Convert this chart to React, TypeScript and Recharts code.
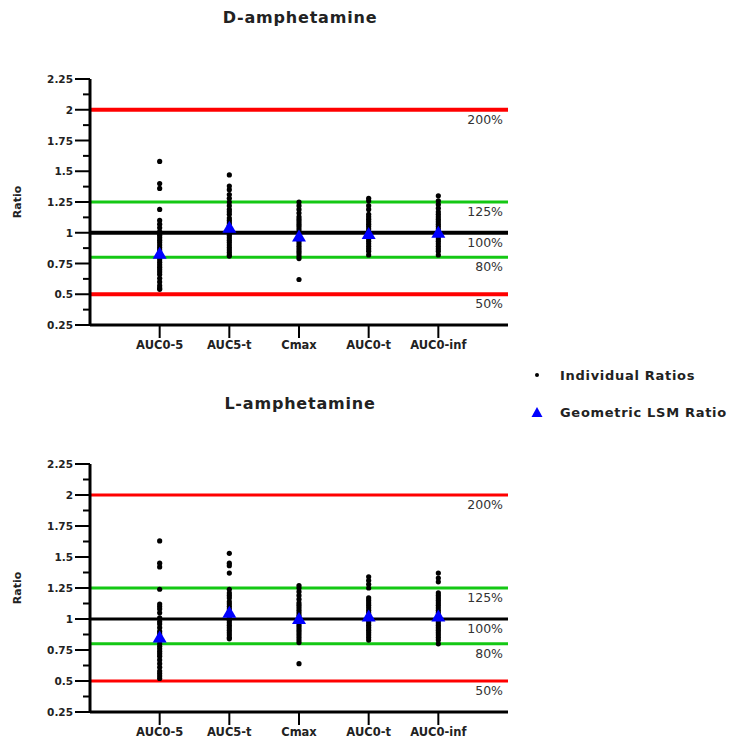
import React from 'react';
import { ScatterChart, Scatter, XAxis, YAxis, ReferenceLine } from 'recharts';

const categories = ['AUC0-5', 'AUC5-t', 'Cmax', 'AUC0-t', 'AUC0-inf'];
const xTicks = [1, 2, 3, 4, 5];

const yTicks = [0.25, 0.375, 0.5, 0.625, 0.75, 0.875, 1, 1.125, 1.25, 1.375, 1.5, 1.625, 1.75, 1.875, 2, 2.125, 2.25];
const yMajorTicks = [0.25, 0.5, 0.75, 1, 1.25, 1.5, 1.75, 2, 2.25];
const yMajorLabels = ['0.25', '0.5', '0.75', '1', '1.25', '1.5', '1.75', '2', '2.25'];

const refValues = [2, 1.25, 1, 0.8, 0.5];
const refLabels = ['200%', '125%', '100%', '80%', '50%'];

// D-amphetamine individual ratios
const dAuc05 = [1.58, 1.4, 1.36, 1.19, 1.1, 1.07, 1.04, 1.01, 1.0, 0.98, 0.96, 0.94, 0.92, 0.9, 0.88, 0.86, 0.84, 0.82, 0.8, 0.78, 0.76, 0.74, 0.72, 0.7, 0.68, 0.66, 0.63, 0.6, 0.57, 0.55, 0.54];
const dAuc5t = [1.47, 1.38, 1.35, 1.31, 1.28, 1.25, 1.22, 1.19, 1.17, 1.15, 1.12, 1.1, 1.08, 1.06, 1.04, 1.02, 1.0, 0.98, 0.96, 0.94, 0.92, 0.9, 0.88, 0.86, 0.84, 0.82, 0.81];
const dCmax = [1.25, 1.22, 1.19, 1.16, 1.13, 1.11, 1.09, 1.07, 1.05, 1.03, 1.01, 0.99, 0.97, 0.95, 0.93, 0.91, 0.89, 0.87, 0.85, 0.83, 0.81, 0.79, 0.62];
const dAuc0t = [1.28, 1.26, 1.22, 1.19, 1.15, 1.13, 1.11, 1.09, 1.07, 1.05, 1.03, 1.01, 0.99, 0.97, 0.95, 0.93, 0.91, 0.89, 0.87, 0.85, 0.82];
const dAuc0inf = [1.3, 1.26, 1.23, 1.2, 1.17, 1.15, 1.13, 1.11, 1.09, 1.07, 1.05, 1.03, 1.01, 0.99, 0.97, 0.95, 0.93, 0.91, 0.89, 0.87, 0.85, 0.82];
const dLsm = [0.83, 1.04, 0.97, 0.99, 1.0];

// L-amphetamine individual ratios
const lAuc05 = [1.63, 1.45, 1.42, 1.24, 1.12, 1.1, 1.08, 1.05, 1.01, 0.98, 0.96, 0.93, 0.9, 0.88, 0.86, 0.83, 0.8, 0.78, 0.76, 0.74, 0.72, 0.7, 0.67, 0.64, 0.61, 0.58, 0.56, 0.54, 0.52];
const lAuc5t = [1.53, 1.45, 1.43, 1.37, 1.24, 1.21, 1.19, 1.17, 1.14, 1.12, 1.1, 1.08, 1.06, 1.03, 1.01, 0.99, 0.97, 0.95, 0.93, 0.91, 0.89, 0.87, 0.85, 0.84];
const lCmax = [1.27, 1.25, 1.22, 1.19, 1.16, 1.13, 1.11, 1.09, 1.07, 1.05, 1.03, 1.01, 0.99, 0.97, 0.95, 0.93, 0.91, 0.89, 0.87, 0.85, 0.83, 0.81, 0.64];
const lAuc0t = [1.34, 1.31, 1.28, 1.25, 1.17, 1.15, 1.13, 1.11, 1.09, 1.07, 1.05, 1.03, 1.01, 0.99, 0.97, 0.95, 0.93, 0.91, 0.89, 0.87, 0.85, 0.83];
const lAuc0inf = [1.37, 1.33, 1.3, 1.21, 1.19, 1.17, 1.15, 1.13, 1.11, 1.09, 1.07, 1.05, 1.03, 1.01, 0.99, 0.97, 0.95, 0.93, 0.91, 0.89, 0.87, 0.85, 0.83, 0.8];
const lLsm = [0.85, 1.05, 1.0, 1.02, 1.02];

const FONT = '"DejaVu Sans", Verdana, sans-serif';
const TICK_SIZE = 15;
const TICK_MARGIN = 2;

const toPoints = (groups: number[][]) =>
  groups.flatMap((vals, i) => vals.map((v) => ({ x: xTicks[i], y: v })));
const toLsm = (vals: number[]) => vals.map((v, i) => ({ x: xTicks[i], y: v }));

const YTick = (props: any) => {
  const { x, y, payload } = props;
  const axisX = x + TICK_SIZE + TICK_MARGIN;
  const idx = yMajorTicks.indexOf(payload.value);
  const major = idx >= 0;
  return (
    <g>
      <line x1={axisX - (major ? TICK_SIZE : 7)} x2={axisX} y1={y} y2={y} stroke="#000" strokeWidth={2} />
      {major && (
        <text x={x} y={y} dy={4} textAnchor="end" fontFamily={FONT} fontSize={10.5} fontWeight="bold" fill="#222">
          {yMajorLabels[idx]}
        </text>
      )}
    </g>
  );
};

const Dot = (props: any) => <circle cx={props.cx} cy={props.cy} r={2.6} fill="#000" />;
const Tri = (props: any) => {
  const { cx, cy } = props;
  return <polygon points={`${cx - 7},${cy + 5} ${cx + 7},${cy + 5} ${cx},${cy - 7}`} fill="#0000ff" />;
};

const refColors = ['#ff0000', '#14c814', '#000000', '#14c814', '#ff0000'];

const Panel = ({ individual, lsm, height, thick }: { individual: number[][]; lsm: number[]; height: number; thick: boolean }) => {
  const widths = thick ? [4, 3, 4, 3, 4] : [3, 3, 3, 3, 3];
  return (
    <ScatterChart width={520} height={height} margin={{ top: 79, right: 12, bottom: 5, left: 10 }}>
      <XAxis
        dataKey="x"
        type="number"
        domain={[0, 6]}
        ticks={xTicks}
        interval={0}
        tickFormatter={(v: number) => categories[v - 1]}
        axisLine={{ stroke: '#000', strokeWidth: 3 }}
        tickLine={{ stroke: '#000', strokeWidth: 2 }}
        tickSize={13}
        tickMargin={3}
        tick={{ fill: '#222', fontSize: 11.5, fontWeight: 'bold', fontFamily: FONT }}
        height={30}
      />
      <YAxis
        dataKey="y"
        type="number"
        domain={[0.25, 2.25]}
        ticks={yTicks}
        interval={0}
        width={80}
        axisLine={{ stroke: '#000', strokeWidth: 3 }}
        tickLine={false}
        tickSize={TICK_SIZE}
        tickMargin={TICK_MARGIN}
        tick={<YTick />}
      />
      {refValues.map((v, i) => (
        <ReferenceLine
          key={v}
          y={v}
          stroke={refColors[i]}
          strokeWidth={widths[i]}
          label={{ value: refLabels[i], position: 'insideTopRight', offset: 5, fill: '#333', fontSize: 12.5, fontFamily: FONT }}
        />
      ))}
      <Scatter data={toPoints(individual)} shape={<Dot />} isAnimationActive={false} />
      <Scatter data={toLsm(lsm)} shape={<Tri />} isAnimationActive={false} />
    </ScatterChart>
  );
};

const Centered = ({ x, y, children, style }: any) => (
  <div style={{ position: 'absolute', left: x, top: y, transform: 'translate(-50%, -50%)', whiteSpace: 'nowrap', ...style }}>
    {children}
  </div>
);

export default function App() {
  return (
    <div style={{ position: 'absolute', left: 0, top: 0, width: 730, height: 742, background: '#fff', fontFamily: FONT, overflow: 'hidden' }}>
      <Centered x={300} y={17} style={{ fontSize: 16, fontWeight: 'bold', letterSpacing: 0.8, color: '#222' }}>D-amphetamine</Centered>
      <Centered x={300} y={403} style={{ fontSize: 16, fontWeight: 'bold', letterSpacing: 0.8, color: '#222' }}>L-amphetamine</Centered>
      <Centered x={17} y={202} style={{ fontSize: 11, fontWeight: 'bold', color: '#222', transform: 'translate(-50%, -50%) rotate(-90deg)' }}>Ratio</Centered>
      <Centered x={17} y={588} style={{ fontSize: 11, fontWeight: 'bold', color: '#222', transform: 'translate(-50%, -50%) rotate(-90deg)' }}>Ratio</Centered>

      <div style={{ position: 'absolute', left: 0, top: 0 }}>
        <Panel individual={[dAuc05, dAuc5t, dCmax, dAuc0t, dAuc0inf]} lsm={dLsm} height={360} thick={true} />
      </div>
      <div style={{ position: 'absolute', left: 0, top: 385 }}>
        <Panel individual={[lAuc05, lAuc5t, lCmax, lAuc0t, lAuc0inf]} lsm={lLsm} height={362} thick={false} />
      </div>

      <div style={{ position: 'absolute', left: 530, top: 366, width: 14, height: 18 }}>
        <svg width={14} height={18}><circle cx={7} cy={9} r={2} fill="#000" /></svg>
      </div>
      <div style={{ position: 'absolute', left: 560, top: 375, transform: 'translateY(-50%)', fontSize: 13, letterSpacing: 0.7, fontWeight: 'bold', color: '#222', whiteSpace: 'nowrap' }}>Individual Ratios</div>
      <div style={{ position: 'absolute', left: 530, top: 403, width: 14, height: 18 }}>
        <svg width={14} height={18}><polygon points="1.5,14 12.5,14 7,4" fill="#0000ff" /></svg>
      </div>
      <div style={{ position: 'absolute', left: 560, top: 412, transform: 'translateY(-50%)', fontSize: 13, letterSpacing: 0.7, fontWeight: 'bold', color: '#222', whiteSpace: 'nowrap' }}>Geometric LSM Ratio</div>
    </div>
  );
}
